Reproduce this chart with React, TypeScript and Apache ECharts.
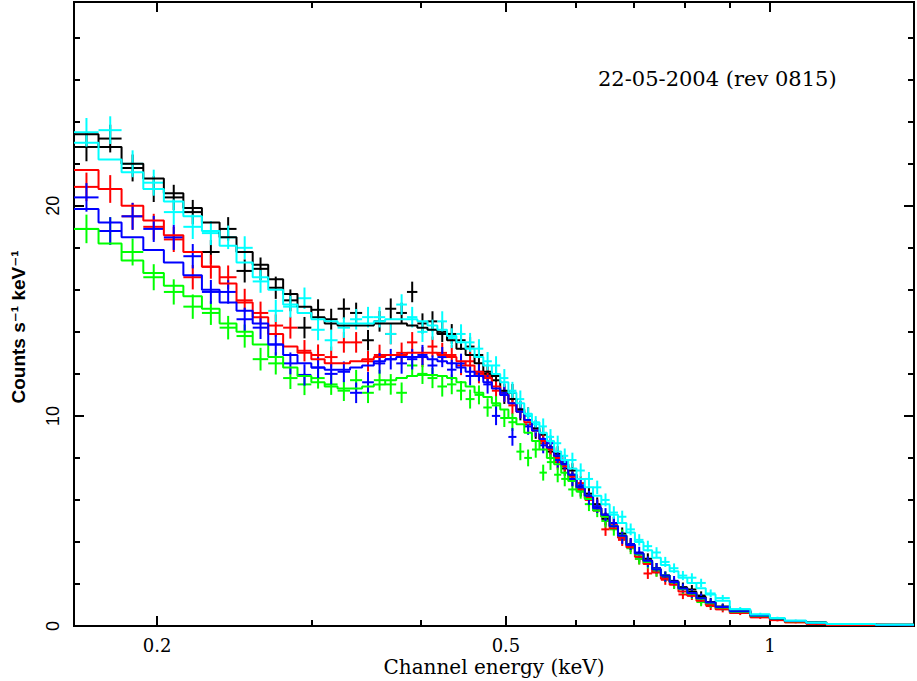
import React, { useEffect, useRef } from "react";
import * as echarts from "echarts";

// ---- axis range (keV, counts s^-1 keV^-1) ----
const X_MIN_KEV = 0.1608;
const X_MAX_KEV = 1.46;
const Y_MIN = 0;
const Y_MAX = 29.7;

// ---- tick marks ----
const X_MAJOR_TICKS = [0.2, 0.5, 1];
const X_MAJOR_LABELS = ["0.2", "0.5", "1"];
const X_MINOR_TICKS = [0.3, 0.4, 0.6, 0.7, 0.8, 0.9];
const Y_MAJOR_TICKS = [0, 10, 20];
const Y_MAJOR_LABELS = ["0", "10", "20"];
const Y_MINOR_TICKS = [2, 4, 6, 8, 12, 14, 16, 18, 22, 24, 26, 28];

// ---- channel bin edges (keV) ----
const EDGES = [
  0.1608, 0.1715, 0.1822, 0.1929, 0.2036, 0.2143, 0.225, 0.2357, 0.2464, 0.2571,
  0.2678, 0.2785, 0.2892, 0.2999, 0.3106, 0.3213, 0.332, 0.3427, 0.3534, 0.3641,
  0.3748, 0.3855, 0.3962, 0.4069, 0.4176, 0.4283, 0.439, 0.4497, 0.4604, 0.4711,
  0.4818, 0.4925, 0.5032, 0.5139, 0.5246, 0.5353, 0.546, 0.5567, 0.5674, 0.5781,
  0.5888, 0.6018, 0.615, 0.6285, 0.6423, 0.6565, 0.671, 0.686, 0.7015, 0.7175,
  0.734, 0.751, 0.7685, 0.7865, 0.805, 0.8245, 0.845, 0.867, 0.9, 0.95,
  1.0, 1.04, 1.1, 1.16, 1.32, 1.46,
];

// ---- 1-sigma errors per channel ----
const ERR = [
  0.68, 0.66, 0.64, 0.62, 0.6, 0.58, 0.57, 0.56, 0.55, 0.54,
  0.53, 0.52, 0.51, 0.5, 0.5, 0.49, 0.49, 0.49, 0.49, 0.49,
  0.49, 0.49, 0.48, 0.48, 0.48, 0.47, 0.46, 0.45, 0.45, 0.44,
  0.44, 0.43, 0.42, 0.41, 0.4, 0.39, 0.38, 0.37, 0.36, 0.35,
  0.35, 0.34, 0.33, 0.32, 0.31, 0.3, 0.29, 0.28, 0.27, 0.26,
  0.25, 0.24, 0.23, 0.22, 0.21, 0.2, 0.19,
  0.15, 0.1, 0.08, 0.06, 0.05, 0.04, 0.03, 0.03,
];

// ---- black spectrum ----
const BLACK_MODEL = [
  23.4, 22.8, 22.0, 21.3, 20.6, 19.9, 19.2, 18.5, 17.8, 17.2,
  16.5, 15.8, 15.2, 14.7, 14.4, 14.3, 14.3, 14.3, 14.4, 14.4,
  14.4, 14.3, 14.2, 14.1, 13.9, 13.6, 13.2, 12.9, 12.5, 12.1,
  11.7, 11.2, 10.8, 10.3, 9.8, 9.4, 8.9, 8.5, 8.1, 7.7,
  7.2, 6.6, 6.2, 5.6, 5.3, 4.75, 4.3, 3.85, 3.45, 3.1,
  2.7, 2.4, 2.12, 1.82, 1.63, 1.38, 1.12,
  0.92, 0.74, 0.48, 0.35, 0.21, 0.16, 0.1, 0.06,
];
const BLACK_DATA = [
  22.8, 23.2, 21.8, 20.8, 20.4, 19.7, 17.8, 18.9, 16.9, 17.0,
  16.1, 15.5, 14.2, 15.05, 14.6, 15.1, 14.9, 13.6, 14.5, 15.1,
  14.9, 15.9, 14.4, 14.5, 14.0, 13.9, 13.6, 13.3, 12.9, 12.0,
  11.9, 11.0, 11.1, 10.2, 10.0, 9.3, 9.1, 8.3, 8.2, 7.5,
  7.4, 6.5, 6.3, 5.8, 5.1, 4.9, 4.4, 3.9, 3.3, 3.2,
  2.75, 2.35, 2.05, 1.85, 1.74, 1.45, 1.14,
  0.92, 0.74, 0.48, 0.35, 0.21, 0.16, 0.1, 0.06,
];

// ---- red spectrum ----
const RED_MODEL = [
  21.7, 20.8, 20.0, 19.3, 18.6, 17.8, 17.1, 16.3, 15.4, 14.7,
  13.9, 13.3, 13.0, 12.7, 12.5, 12.5, 12.6, 12.7, 12.8, 12.9,
  12.9, 13.0, 13.0, 13.0, 12.9, 12.8, 12.6, 12.4, 12.1, 11.8,
  11.4, 11.0, 10.6, 10.2, 9.7, 9.3, 8.8, 8.4, 8.0, 7.6,
  7.1, 6.5, 6.1, 5.5, 5.2, 4.65, 4.2, 3.75, 3.3, 2.95,
  2.55, 2.25, 1.96, 1.64, 1.44, 1.2, 1.0,
  0.8, 0.62, 0.42, 0.28, 0.18, 0.11, 0.06, 0.03,
];
const RED_DATA = [
  20.9, 20.8, 19.5, 19.0, 18.4, 16.6, 17.1, 16.6, 15.5, 14.9,
  14.3, 14.2, 13.1, 12.9, 12.8, 13.5, 13.5, 12.6, 12.9, 13.9,
  13.0, 13.5, 12.8, 13.3, 13.0, 12.9, 12.4, 12.6, 12.0, 11.9,
  11.2, 11.1, 10.5, 10.3, 9.6, 9.4, 8.7, 8.5, 7.8, 7.7,
  7.0, 6.8, 6.0, 5.7, 4.6, 4.8, 4.1, 3.8, 3.2, 2.5,
  2.6, 2.2, 2.0, 1.5, 1.45, 1.22, 0.95,
  0.8, 0.62, 0.42, 0.28, 0.18, 0.11, 0.06, 0.03,
];

// ---- green spectrum ----
const GREEN_MODEL = [
  18.9, 18.2, 17.4, 16.8, 16.2, 15.7, 15.1, 14.4, 14.0, 13.4,
  12.8, 12.3, 11.9, 11.6, 11.4, 11.3, 11.3, 11.4, 11.5, 11.7,
  11.8, 11.9, 11.95, 11.95, 11.9, 11.8, 11.6, 11.4, 11.1, 10.9,
  10.6, 10.3, 9.9, 9.6, 9.2, 8.8, 8.4, 8.0, 7.7, 7.3,
  6.9, 6.4, 6.05, 5.5, 5.2, 4.75, 4.3, 3.85, 3.4, 3.05,
  2.7, 2.4, 2.1, 1.76, 1.55, 1.3, 1.08,
  0.88, 0.68, 0.48, 0.34, 0.23, 0.15, 0.09, 0.05,
];
const GREEN_DATA = [
  18.9, 18.8, 17.8, 16.6, 15.9, 15.2, 14.9, 14.2, 13.8, 12.7,
  12.5, 11.8, 11.5, 11.8, 11.5, 11.2, 11.7, 11.1, 11.7, 11.5,
  11.1, 12.4, 12.0, 11.8, 11.4, 11.5, 11.2, 10.8, 11.0, 10.4,
  10.5, 9.9, 9.7, 8.3, 8.0, 8.4, 7.3, 7.8, 7.2, 7.0,
  6.5, 6.4, 5.8, 5.5, 5.0, 4.6, 4.3, 3.7, 3.2, 3.0,
  2.6, 2.35, 2.0, 1.75, 1.5, 1.14, 1.05,
  0.88, 0.68, 0.48, 0.34, 0.23, 0.15, 0.09, 0.05,
];

// ---- blue spectrum ----
const BLUE_MODEL = [
  19.85, 19.2, 18.5, 17.9, 17.3, 16.7, 16.0, 15.4, 15.0, 14.4,
  13.4, 12.9, 12.5, 12.3, 12.2, 12.2, 12.3, 12.4, 12.6, 12.7,
  12.8, 12.8, 12.8, 12.7, 12.6, 12.5, 12.3, 12.1, 11.9, 11.6,
  11.3, 11.0, 10.6, 10.2, 9.8, 9.3, 8.9, 8.5, 8.1, 7.7,
  7.2, 6.6, 6.2, 5.6, 5.3, 4.75, 4.3, 3.85, 3.45, 3.1,
  2.7, 2.4, 2.1, 1.78, 1.57, 1.32, 1.12,
  0.9, 0.7, 0.5, 0.36, 0.24, 0.15, 0.09, 0.05,
];
const BLUE_DATA = [
  20.4, 18.8, 19.5, 18.9, 18.5, 17.6, 15.9, 15.9, 14.6, 14.2,
  13.4, 12.5, 11.95, 12.3, 12.0, 12.1, 11.1, 11.6, 12.5, 12.7,
  12.5, 12.7, 12.9, 12.4, 12.8, 12.2, 12.5, 11.9, 12.1, 11.5,
  10.0, 11.1, 9.0, 10.3, 9.5, 9.4, 8.6, 8.7, 7.9, 7.8,
  7.0, 6.7, 6.1, 5.7, 5.3, 4.9, 4.2, 3.9, 3.5, 3.05,
  2.75, 2.35, 2.15, 1.8, 1.55, 1.35, 1.12,
  0.9, 0.7, 0.5, 0.36, 0.24, 0.15, 0.09, 0.05,
];

// ---- cyan spectrum ----
const CYAN_MODEL = [
  23.0, 22.2, 21.6, 20.8, 20.2, 19.5, 18.8, 18.1, 17.3, 16.6,
  16.0, 15.3, 14.9, 14.6, 14.5, 14.4, 14.4, 14.4, 14.5, 14.6,
  14.6, 14.6, 14.5, 14.3, 14.1, 13.8, 13.5, 13.2, 12.8, 12.4,
  12.0, 11.6, 11.1, 10.6, 10.1, 9.7, 9.2, 8.8, 8.3, 7.9,
  7.5, 7.0, 6.6, 6.2, 5.8, 5.3, 4.9, 4.45, 4.0, 3.6,
  3.25, 2.9, 2.6, 2.3, 2.05, 1.8, 1.5,
  1.2, 0.8, 0.55, 0.38, 0.25, 0.16, 0.1, 0.06,
];
const CYAN_DATA = [
  23.5, 23.6, 22.0, 21.1, 19.7, 19.0, 18.7, 18.5, 18.0, 16.4,
  15.0, 15.2, 15.6, 14.1, 13.6, 14.2, 14.6, 14.7, 14.7, 13.9,
  15.3, 14.7, 14.0, 14.1, 14.5, 13.7, 13.9, 13.5, 13.2, 12.6,
  12.4, 11.8, 11.2, 10.8, 10.0, 9.6, 9.5, 9.0, 8.7, 8.1,
  7.9, 7.4, 7.0, 6.6, 6.0, 5.4, 5.2, 4.6, 4.1, 3.8,
  3.5, 3.05, 2.75, 2.4, 2.3, 2.05, 1.55,
  1.33, 0.8, 0.55, 0.38, 0.25, 0.16, 0.1, 0.06,
];

const SPECTRA = [
  { name: "black", color: "#000000", model: BLACK_MODEL, data: BLACK_DATA },
  { name: "red", color: "#ff0000", model: RED_MODEL, data: RED_DATA },
  { name: "green", color: "#00ff00", model: GREEN_MODEL, data: GREEN_DATA },
  { name: "blue", color: "#0000ff", model: BLUE_MODEL, data: BLUE_DATA },
  { name: "cyan", color: "#00ffff", model: CYAN_MODEL, data: CYAN_DATA },
];

const DATE_LABEL = "22-05-2004 (rev 0815)";
const X_TITLE = "Channel energy (keV)";
const Y_TITLE = "Counts s\u207B\u00B9 keV\u207B\u00B9";

const lg = (v: number) => Math.log10(v);

function stepPoints(model: number[]) {
  const pts = model.map((v, i) => [lg(EDGES[i]), v]);
  pts.push([lg(EDGES[EDGES.length - 1]), model[model.length - 1]]);
  return pts;
}

function crossPoints(values: number[]) {
  return values.map((v, i) => [
    lg(EDGES[i]),
    lg(EDGES[i + 1]),
    lg((EDGES[i] + EDGES[i + 1]) / 2),
    v,
    ERR[i],
  ]);
}

const SERIF = "'DejaVu Serif', serif";
const SANS = "'Liberation Sans', 'DejaVu Sans', sans-serif";

function xAxisDef(position: "top" | "bottom", ticks: number[], len: number, labels: boolean) {
  return {
    type: "value",
    position,
    min: lg(X_MIN_KEV),
    max: lg(X_MAX_KEV),
    axisLine: { show: false, onZero: false },
    splitLine: { show: false },
    axisTick: {
      show: true,
      inside: true,
      length: len,
      customValues: ticks.map(lg),
      lineStyle: { color: "#000", width: 2 },
    },
    axisLabel: labels
      ? {
          show: true,
          customValues: ticks.map(lg),
          margin: 10,
          color: "#000",
          fontFamily: SERIF,
          fontSize: 18,
          formatter: (v: number) => {
            const k = X_MAJOR_TICKS.findIndex((t) => Math.abs(lg(t) - v) < 1e-6);
            return k >= 0 ? X_MAJOR_LABELS[k] : "";
          },
        }
      : { show: false },
  };
}

function yAxisDef(position: "left" | "right", ticks: number[], len: number, labels: boolean) {
  return {
    type: "value",
    position,
    min: Y_MIN,
    max: Y_MAX,
    axisLine: { show: false, onZero: false },
    splitLine: { show: false },
    axisTick: {
      show: true,
      inside: true,
      length: len,
      customValues: ticks,
      lineStyle: { color: "#000", width: 2 },
    },
    axisLabel: labels
      ? {
          show: true,
          customValues: ticks,
          rotate: 90,
          margin: 12,
          color: "#000",
          fontFamily: SANS,
          fontSize: 18,
          formatter: (v: number) => {
            const k = Y_MAJOR_TICKS.indexOf(v);
            return k >= 0 ? Y_MAJOR_LABELS[k] : "";
          },
        }
      : { show: false },
  };
}

export default function App() {
  const ref = useRef<HTMLDivElement>(null);

  useEffect(() => {
    if (!ref.current) return;
    const chart = echarts.init(ref.current, undefined, { renderer: "svg" });

    const series: any[] = [];
    SPECTRA.forEach((s) => {
      const color = s.color;
      series.push({
        name: s.name + " data",
        type: "custom",
        xAxisIndex: 0,
        yAxisIndex: 0,
        clip: true,
        silent: true,
        encode: { x: 2, y: 3 },
        data: crossPoints(s.data),
        renderItem: (_p: any, api: any) => {
          const xl = api.value(0);
          const xr = api.value(1);
          const xc = api.value(2);
          const y = api.value(3);
          const e = api.value(4);
          const pl = api.coord([xl, y]);
          const pr = api.coord([xr, y]);
          const pt = api.coord([xc, y + e]);
          const pb = api.coord([xc, y - e]);
          const st = { stroke: color, lineWidth: 2, fill: null };
          return {
            type: "group",
            children: [
              { type: "line", shape: { x1: pl[0], y1: pl[1], x2: pr[0], y2: pr[1] }, style: st },
              { type: "line", shape: { x1: pt[0], y1: pt[1], x2: pb[0], y2: pb[1] }, style: st },
            ],
          };
        },
      });
      series.push({
        name: s.name + " model",
        type: "line",
        xAxisIndex: 0,
        yAxisIndex: 0,
        step: "end",
        symbol: "none",
        silent: true,
        data: stepPoints(s.model),
        lineStyle: { color, width: 2 },
      });
    });

    chart.setOption({
      animation: false,
      backgroundColor: "#ffffff",
      grid: {
        left: 74,
        right: 3,
        top: 2,
        bottom: 55,
        show: true,
        borderColor: "#000",
        borderWidth: 2,
        backgroundColor: "transparent",
      },
      xAxis: [
        xAxisDef("bottom", X_MAJOR_TICKS, 10, true),
        xAxisDef("bottom", X_MINOR_TICKS, 6, false),
        xAxisDef("top", X_MAJOR_TICKS, 10, false),
        xAxisDef("top", X_MINOR_TICKS, 6, false),
      ],
      yAxis: [
        yAxisDef("left", Y_MAJOR_TICKS, 10, true),
        yAxisDef("left", Y_MINOR_TICKS, 6, false),
        yAxisDef("right", Y_MAJOR_TICKS, 10, false),
        yAxisDef("right", Y_MINOR_TICKS, 6, false),
      ],
      series,
      graphic: [
        {
          type: "text",
          left: 598,
          top: 68,
          style: { text: DATE_LABEL, fontFamily: SERIF, fontSize: 21, fill: "#000" },
        },
        {
          type: "text",
          x: 494,
          y: 667,
          style: {
            text: X_TITLE,
            fontFamily: SERIF,
            fontSize: 20,
            fill: "#000",
            textAlign: "center",
            textVerticalAlign: "middle",
          },
        },
        {
          type: "text",
          x: 18,
          y: 327,
          rotation: Math.PI / 2,
          style: {
            text: Y_TITLE,
            fontFamily: SANS,
            fontSize: 19,
            fontWeight: "bold",
            fill: "#000",
            textAlign: "center",
            textVerticalAlign: "middle",
          },
        },
      ],
    });

    return () => chart.dispose();
  }, []);

  return (
    <div
      ref={ref}
      style={{ position: "fixed", left: 0, top: 0, width: 917, height: 681, background: "#fff" }}
    />
  );
}
